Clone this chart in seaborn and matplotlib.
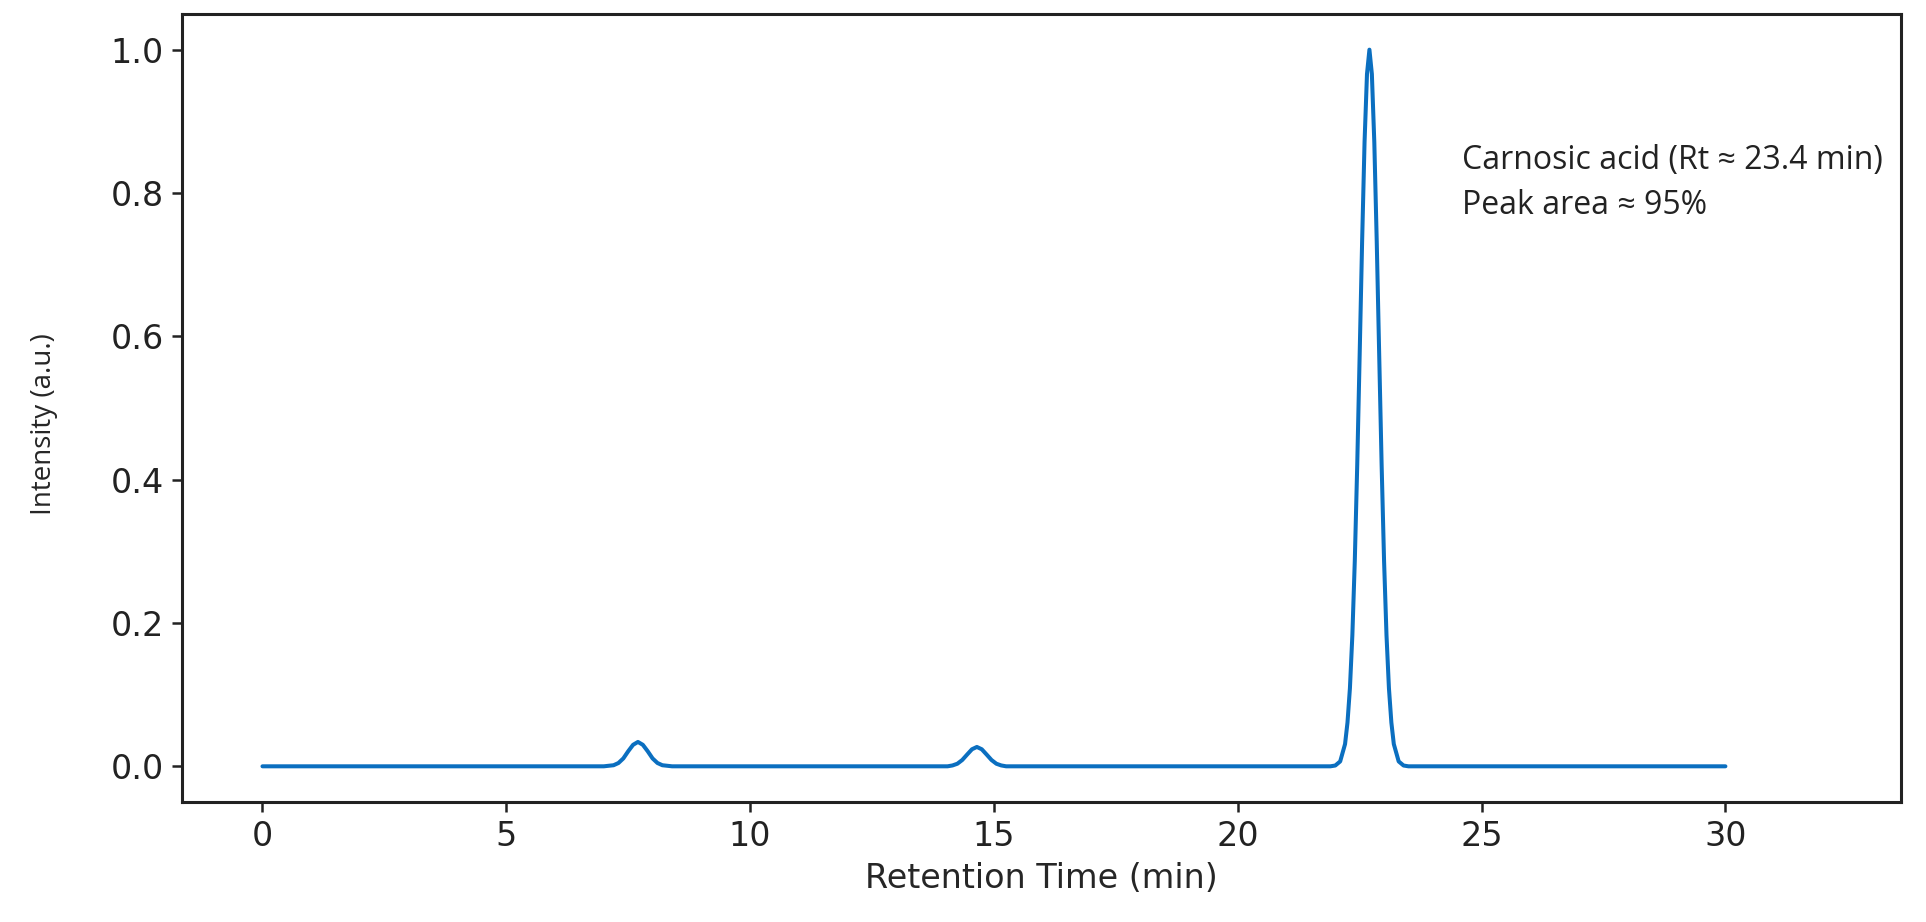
import numpy as np
import pandas as pd
import seaborn as sns
import matplotlib.pyplot as plt

# retention time (min) and intensity
rt = [0.0, 7.0, 7.2, 7.3, 7.4, 7.5, 7.6, 7.7, 7.8, 7.9, 8.0, 8.1, 8.2, 8.4,
      14.05, 14.15, 14.25, 14.35, 14.45, 14.55, 14.65, 14.75, 14.85, 14.95, 15.05, 15.15, 15.25,
      21.9, 22.0, 22.1, 22.2, 22.25, 22.3, 22.35, 22.4, 22.45, 22.5, 22.55, 22.6, 22.65, 22.7,
      22.75, 22.8, 22.85, 22.9, 22.95, 23.0, 23.05, 23.1, 23.15, 23.2, 23.3, 23.4, 23.5,
      30.0]
intensity = [0.0, 0.0, 0.0015, 0.0046, 0.011, 0.021, 0.030, 0.034, 0.030, 0.021, 0.011, 0.0046, 0.0015, 0.0,
             0.0, 0.0012, 0.0036, 0.0088, 0.0164, 0.0238, 0.027, 0.0238, 0.0164, 0.0088, 0.0036, 0.0012, 0.0,
             0.0, 0.0011, 0.0068, 0.031, 0.061, 0.109, 0.183, 0.287, 0.421, 0.575, 0.732, 0.871, 0.966, 1.0,
             0.966, 0.871, 0.732, 0.575, 0.421, 0.287, 0.183, 0.109, 0.061, 0.031, 0.0068, 0.0011, 0.0,
             0.0]

label_lines = ["Carnosic acid (Rt \u2248 23.4 min)", "Peak area \u2248 95%"]

sns.set_style('ticks')
plt.rcParams['font.family'] = ['DejaVu Sans']
df = pd.DataFrame({'rt': rt, 'intensity': intensity})

fig = plt.figure(figsize=(19.26, 9.22), dpi=100)
ax = fig.add_axes([0.0945, 0.130, 0.8925, 0.855])
sns.lineplot(data=df, x='rt', y='intensity', ax=ax, color='#0b6fc0', linewidth=2.9)

ax.set_xlim(-1.65, 33.6)
ax.set_ylim(-0.05, 1.05)
ax.set_xticks([0, 5, 10, 15, 20, 25, 30])
ax.set_yticks([0.0, 0.2, 0.4, 0.6, 0.8, 1.0])
ax.tick_params(labelsize=24, length=7, width=1.8, colors='#222222', pad=6)
for s in ax.spines.values():
    s.set_linewidth(2.2)
    s.set_color('#222222')

ax.set_xlabel('Retention Time (min)', fontsize=24, labelpad=6)
ax.set_ylabel('Intensity (a.u.)', fontsize=20,
              family=['Liberation Sans Narrow', 'Open Sans'])
ax.yaxis.set_label_coords(-0.072, 0.48)

ax.text(24.6, 0.868, '\n'.join(label_lines), fontsize=23, va='top', ha='left',
        linespacing=1.45, family=['Liberation Sans Narrow', 'Open Sans'], color='#222222')

fig.savefig('out.png', dpi=100, facecolor='white')
